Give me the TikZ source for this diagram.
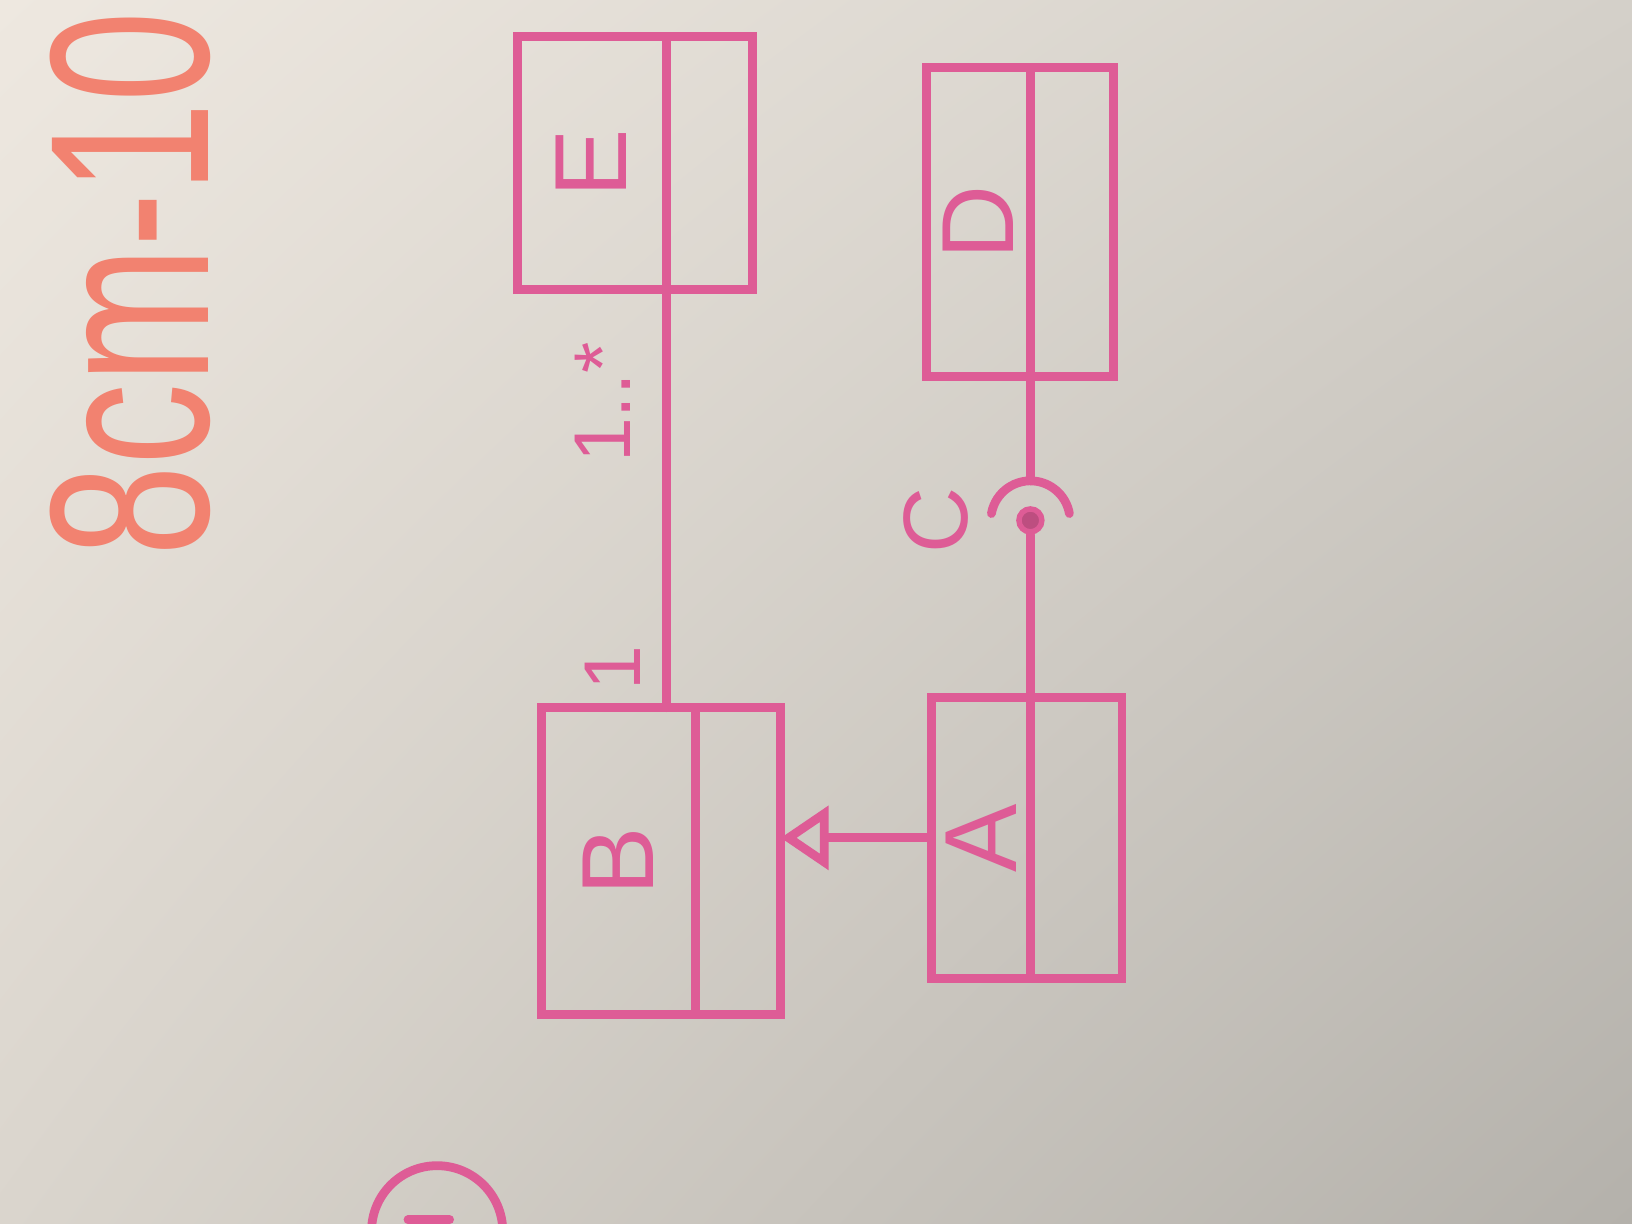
\documentclass[tikz,border=0pt]{standalone}
\usepackage{graphicx}
\usepackage{fontspec}
\setsansfont{Liberation Sans}
\usetikzlibrary{positioning,arrows.meta,shadings}
\definecolor{marker}{RGB}{222,92,150}
\definecolor{oldink}{RGB}{242,130,112}
\definecolor{boardUL}{RGB}{238,232,224}
\definecolor{boardUR}{RGB}{212,208,201}
\definecolor{boardLL}{RGB}{218,213,205}
\definecolor{boardLR}{RGB}{180,177,171}
\newcommand{\vtext}[1]{\rotatebox{90}{#1}}
\begin{document}
\begin{tikzpicture}[
        x=0.01cm, y=-0.01cm,
        classname/.style={draw=marker, line width=2.4pt, inner sep=0pt, outer sep=0pt, text=marker, font=\sffamily\fontsize{28}{30}\selectfont},
        classattr/.style={draw=marker, line width=2.4pt, inner sep=0pt, outer sep=0pt},
        wire/.style={draw=marker, line width=2.4pt, line cap=round},
        mult/.style={text=marker, inner sep=0pt, font=\sffamily\fontsize{22}{24}\selectfont},
        ball/.style={circle, draw=marker, fill=marker!85!black, line width=1.5pt, minimum size=0.22cm, inner sep=0pt},
        note/.style={text=oldink, inner sep=0pt, font=\sffamily\fontsize{62}{64}\selectfont}
    ]
        \clip (0,0) rectangle (1568,1176);
        \shade[upper left=boardUL, upper right=boardUR, lower left=boardLL, lower right=boardLR] (0,0) rectangle (1568,1176);

        \node[note, rotate=90, anchor=base west] (sizenote) at (200,535) {\scalebox{0.72}[1]{8cm-10}};

        \node[classname, minimum width=1.43cm, minimum height=2.43cm] (Ename) at (568.5,156.5) {\vtext{E}};
        \node[classattr, minimum width=0.83cm, minimum height=2.43cm, right=0pt of Ename] (Eattr) {};
        \node[classname, minimum width=1.00cm, minimum height=2.97cm] (Dname) at (940,213.5) {\vtext{D}};
        \node[classattr, minimum width=0.80cm, minimum height=2.97cm, right=0pt of Dname] (Dattr) {};
        \node[classname, minimum width=1.48cm, minimum height=2.95cm] (Bname) at (594,827.5) {\vtext{B}};
        \node[classattr, minimum width=0.82cm, minimum height=2.95cm, right=0pt of Bname] (Battr) {};
        \node[classname, minimum width=0.95cm, minimum height=2.70cm] (Aname) at (942.5,805) {\vtext{A}};
        \node[classattr, minimum width=0.88cm, minimum height=2.70cm, right=0pt of Aname] (Aattr) {};

        \node[ball, label={[mult, font=\sffamily\fontsize{25}{27}\selectfont, label distance=0.45cm]left:\vtext{C}}] (ball) at (990,500) {};

        \draw[wire] (Ename.south east) -- node[mult, pos=0.27, left=0.3cm] {\vtext{1..*}} node[mult, pos=0.905, left=0.2cm] {\vtext{1}} (Ename.south east |- Bname.north);
        \draw[wire] (Dname.south east) -- ([yshift=0.38cm]ball.center);
        \draw[wire] ([shift={(170:0.38cm)}]ball.center) arc[start angle=170, end angle=10, radius=0.38cm];
        \draw[wire] (ball.south) -- (Aname.north east);
        \draw[wire, -{Triangle[open, length=0.46cm, width=0.6cm]}] (Aname.west) -- (Aname.west -| Battr.east);

        \draw[wire] (420,1183) circle[radius=0.63cm];
        \draw[wire] (392,1172) -- (432,1172);
    \end{tikzpicture}
\end{document}
